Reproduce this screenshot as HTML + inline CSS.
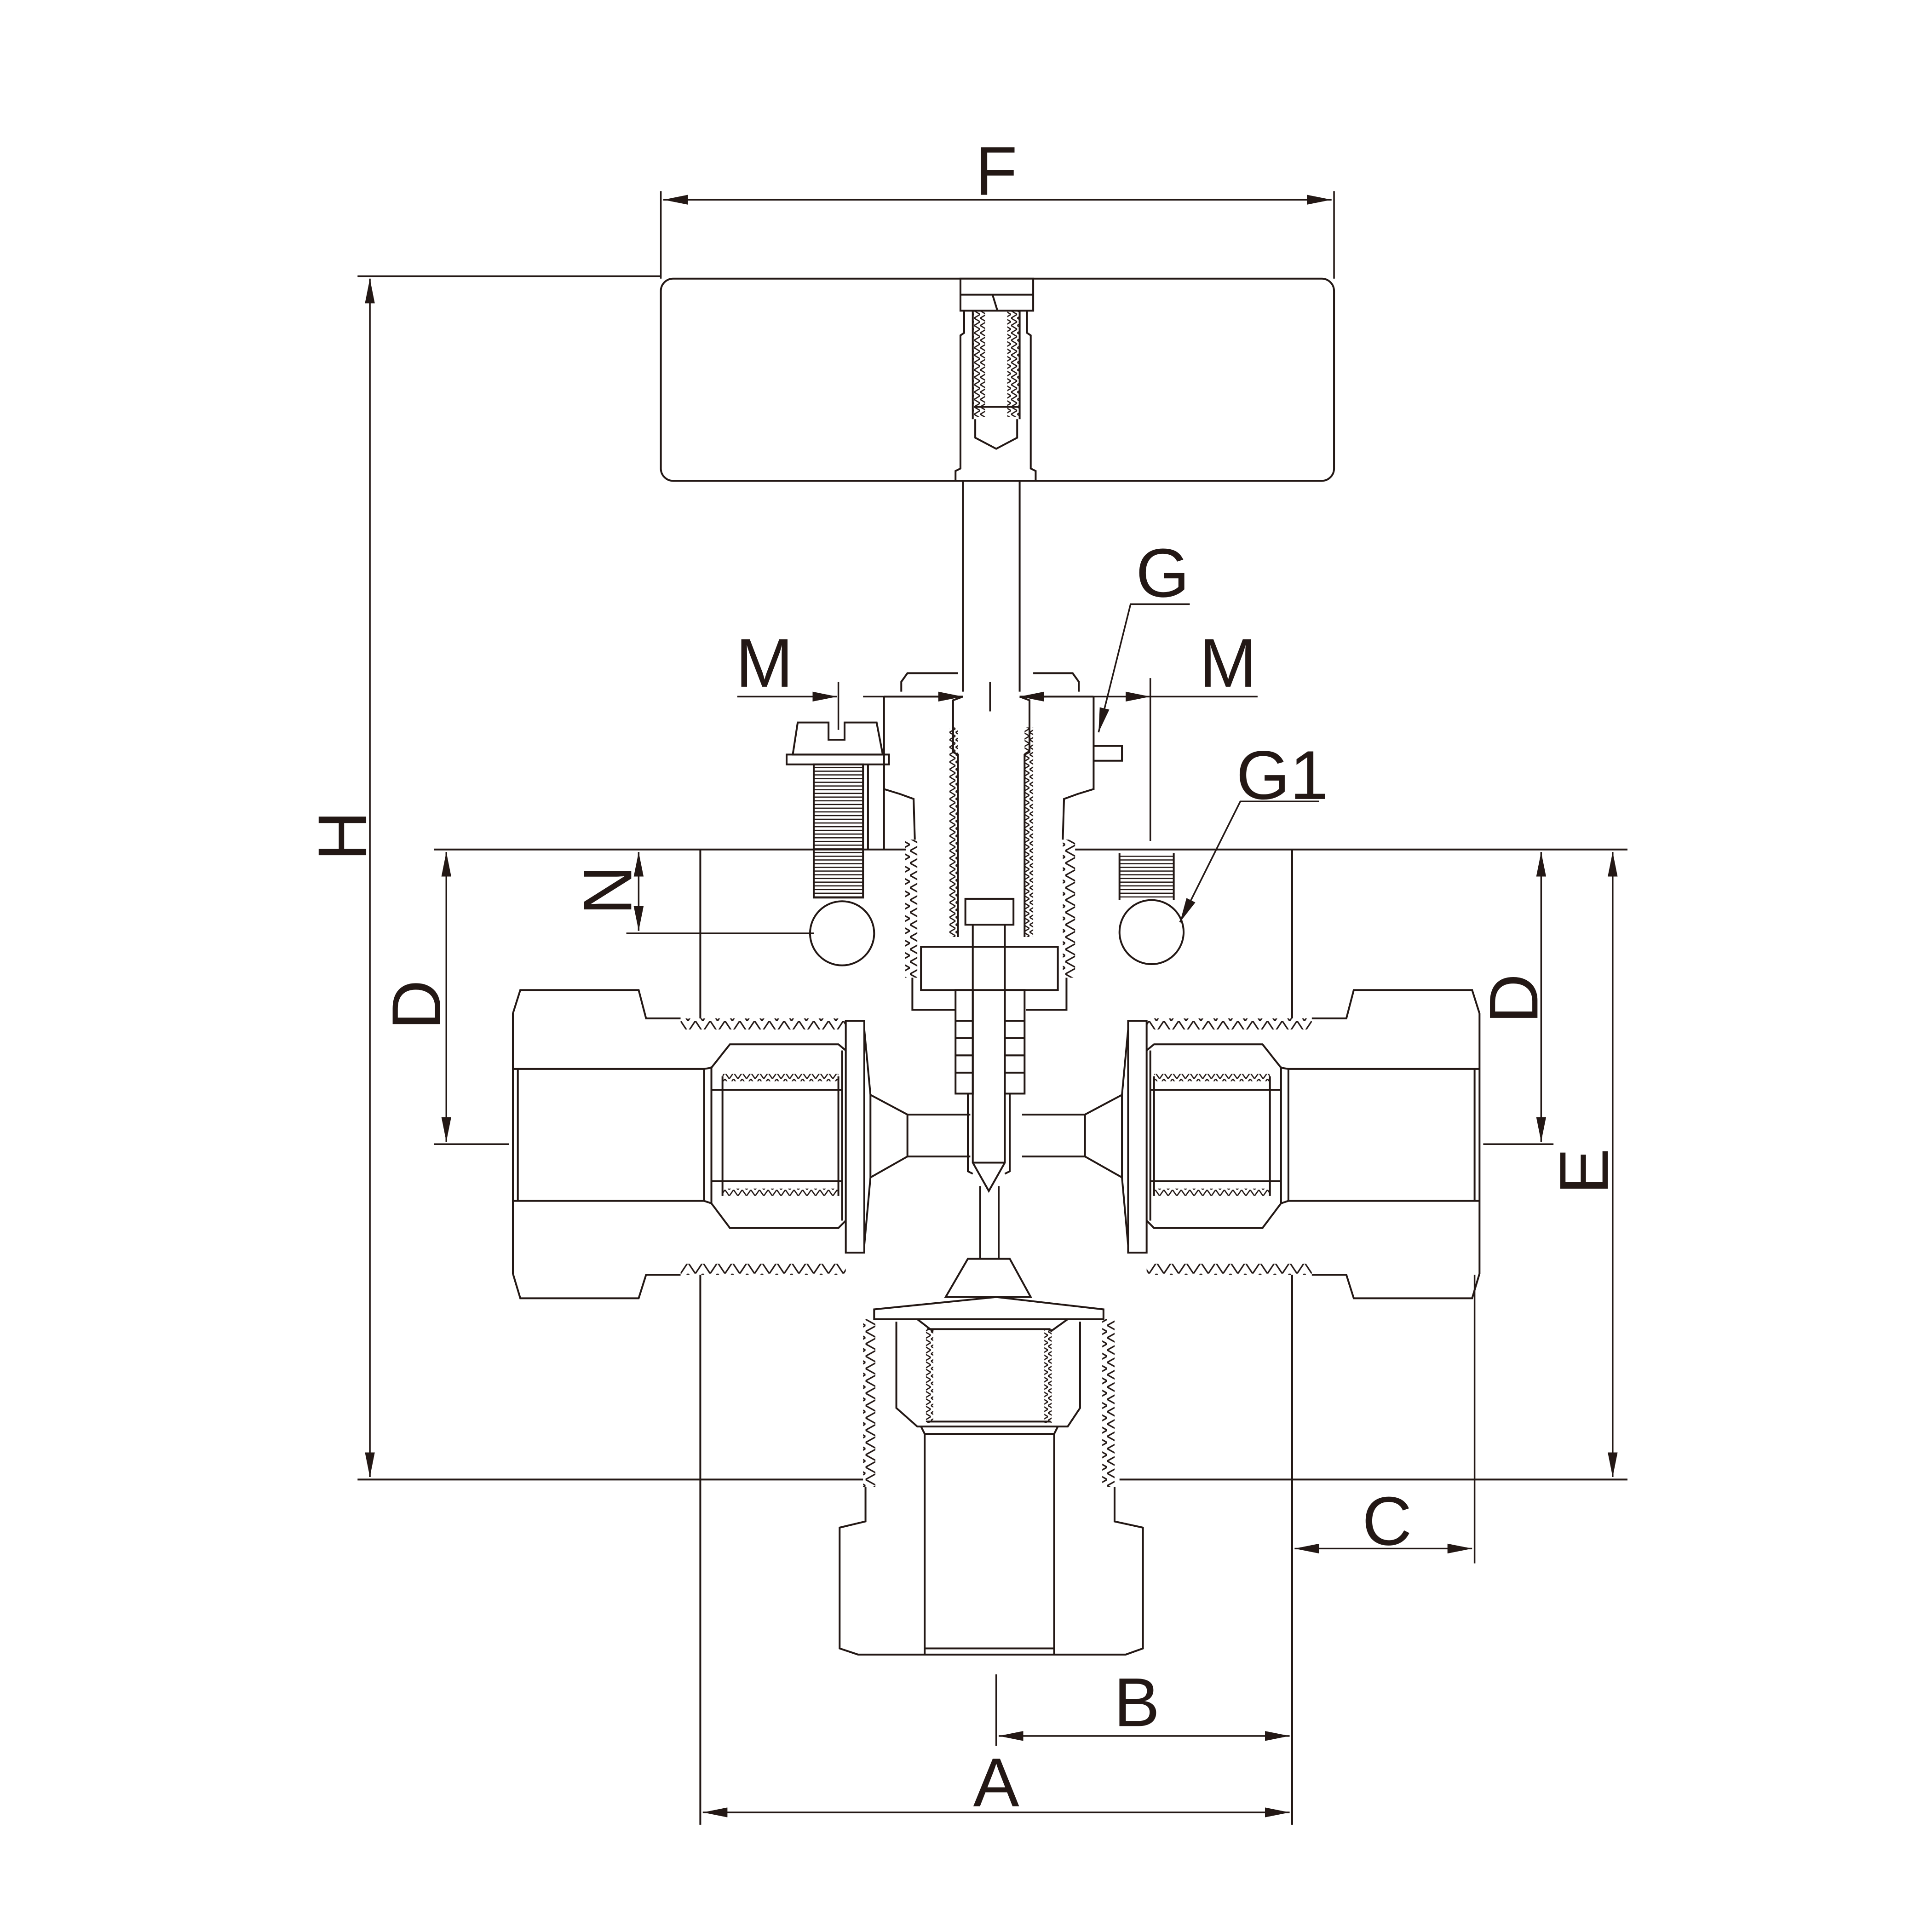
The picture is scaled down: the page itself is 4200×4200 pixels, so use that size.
<!DOCTYPE html>
<html><head><meta charset="utf-8"><style>
html,body{margin:0;padding:0;background:#fff}
svg{display:block}
text{font-family:"Liberation Sans",sans-serif;font-size:56px;fill:#231815}
</style></head><body>
<svg width="4200" height="4200" viewBox="0 0 1567 1567" xmlns="http://www.w3.org/2000/svg">
<defs>
<pattern id="zh" width="12" height="9" patternUnits="userSpaceOnUse"><polyline points="0,0 6,9 12,0" fill="none" stroke="#231815" stroke-width="1.2"/></pattern>
<pattern id="zv" width="9" height="10" patternUnits="userSpaceOnUse"><polyline points="0,0 9,5 0,10" fill="none" stroke="#231815" stroke-width="1.2"/></pattern>
<pattern id="zvs" width="5" height="6" patternUnits="userSpaceOnUse"><polyline points="0,0 5,3 0,6" fill="none" stroke="#231815" stroke-width="1"/></pattern>
<pattern id="zhs" width="7" height="5" patternUnits="userSpaceOnUse"><polyline points="0,0 3.5,5 7,0" fill="none" stroke="#231815" stroke-width="1"/></pattern>
<pattern id="hat" width="10" height="3" patternUnits="userSpaceOnUse"><line x1="0" y1="1.5" x2="10" y2="1.5" stroke="#231815" stroke-width="1"/></pattern>
<marker id="ar" viewBox="0 0 20 8" refX="20" refY="4" markerWidth="20" markerHeight="8" markerUnits="userSpaceOnUse" orient="auto-start-reverse"><path d="M0,0 L20,4 L0,8 Z" fill="#231815"/></marker>
<g id="side">
  <path d="M552,826 L524,826 L518,803 L422,803 L416,822 L416,1033 L422,1053 L518,1053 L524,1034 L552,1034" fill="none"/>
  <rect x="552" y="826" width="134" height="9" fill="url(#zh)" stroke="none"/>
  <rect x="552" y="1025" width="134" height="9" fill="url(#zh)" stroke="none" transform="translate(0,2059) scale(1,-1)"/>
  <line x1="416" y1="867" x2="571" y2="867"/><line x1="416" y1="974" x2="571" y2="974"/>
  <line x1="420" y1="867" x2="420" y2="974"/>
  <rect x="686" y="828" width="15" height="188" fill="#fff"/>
  <path d="M701,835 L706,888 L706,955 L701,1010"/>
  <path d="M571,867 L577,866 L592,847 L680,847 L686,852 M571,974 L577,976 L592,996 L680,996 L686,990" fill="none"/>
  <line x1="571" y1="867" x2="571" y2="974"/><line x1="577" y1="865" x2="577" y2="976"/>
  <line x1="586" y1="873" x2="586" y2="970"/><line x1="680" y1="873" x2="680" y2="970"/>
  <line x1="683" y1="852" x2="683" y2="990"/>
  <rect x="586" y="871" width="94" height="6" fill="url(#zhs)" stroke="none"/>
  <rect x="586" y="964" width="94" height="6" fill="url(#zhs)" stroke="none"/>
  <line x1="577" y1="884" x2="683" y2="884"/><line x1="577" y1="958" x2="683" y2="958"/>
  <path d="M706,888 L736,904 L736,938 L706,955" fill="none"/>
  <line x1="736" y1="904" x2="787" y2="904"/><line x1="736" y1="938" x2="787" y2="938"/>
</g>
</defs>
<g stroke="#231815" stroke-width="1.5" fill="none">
<rect x="536" y="226" width="546" height="164" rx="10"/>
<rect x="779" y="226" width="59" height="26" fill="#fff"/>
<line x1="779" y1="239" x2="838" y2="239"/><line x1="805" y1="239" x2="809" y2="252"/>
<rect x="789" y="252" width="10" height="86" fill="url(#zvs)" stroke="none"/>
<rect x="817" y="252" width="10" height="86" fill="url(#zvs)" stroke="none"/>
<line x1="789" y1="252" x2="789" y2="340"/><line x1="827" y1="252" x2="827" y2="340"/>
<line x1="790" y1="330" x2="826" y2="330"/>
<path d="M791,340 L791,355 L808,364 L825,355 L825,340"/>
<path d="M782,252 L782,270 L779,272 L779,380 L775,382 L775,390 M833,252 L833,270 L836,272 L836,380 L840,382 L840,390"/>
<line x1="781" y1="390" x2="781" y2="561"/><line x1="827" y1="390" x2="827" y2="561"/>
<path d="M731,561 L731,553 L736,546 L777,546 M838,546 L870,546 L875,553 L875,561"/>
<path d="M717,565 L717,640 L730,644 L741,648 L742,681 M887,565 L887,640 L874,644 L863,648 L862,681"/>
<line x1="717" y1="565" x2="781" y2="565"/><line x1="827" y1="565" x2="887" y2="565"/>
<rect x="734" y="681" width="10" height="112" fill="url(#zv)" stroke="none"/>
<rect x="862" y="681" width="10" height="112" fill="url(#zv)" stroke="none"/>
<rect x="770" y="590" width="7" height="170" fill="url(#zvs)" stroke="none"/>
<rect x="831" y="590" width="7" height="170" fill="url(#zvs)" stroke="none"/>
<path d="M781,565 L773,568 L773,610 L777,612 L777,760 M827,565 L835,568 L835,610 L831,612 L831,760"/>
<path d="M887,605 L910,605 L910,617 L887,617"/>
<rect x="783" y="729" width="39" height="21"/>
<path d="M789,750 L789,943 L802,966 L815,943 L815,750"/>
<line x1="789" y1="943" x2="815" y2="943"/>
<rect x="747" y="768" width="111" height="35"/>
<path d="M740,793 L740,819 L775,819 M865,793 L865,819 L832,819"/>
<rect x="775" y="803" width="14" height="84"/><rect x="815" y="803" width="16" height="84"/>
<line x1="775" y1="828" x2="789" y2="828"/><line x1="775" y1="842" x2="789" y2="842"/><line x1="775" y1="856" x2="789" y2="856"/><line x1="775" y1="870" x2="789" y2="870"/>
<line x1="815" y1="828" x2="831" y2="828"/><line x1="815" y1="842" x2="831" y2="842"/><line x1="815" y1="856" x2="831" y2="856"/><line x1="815" y1="870" x2="831" y2="870"/>
<path d="M785,887 L785,950 L789,952 M819,887 L819,950 L815,952"/>
<path d="M795,962 L795,1021 M810,962 L810,1021"/>
<line x1="352" y1="689" x2="735" y2="689"/><line x1="872" y1="689" x2="1320" y2="689"/>
<line x1="568" y1="689" x2="568" y2="826"/><line x1="1048" y1="689" x2="1048" y2="826"/>
<line x1="568" y1="1034" x2="568" y2="1480"/><line x1="1048" y1="1034" x2="1048" y2="1480"/>
<line x1="290" y1="1200" x2="700" y2="1200"/><line x1="908" y1="1200" x2="1320" y2="1200"/>
<use href="#side"/>
<use href="#side" transform="translate(1616,0) scale(-1,1)"/>
<path d="M785,1021 L819,1021 L836,1052 L767,1052 Z"/>
<path d="M709,1070 L709,1062 L808,1052 L895,1062 L895,1070 Z"/>
<rect x="700" y="1070" width="10" height="136" fill="url(#zv)" stroke="none"/>
<rect x="894" y="1070" width="10" height="136" fill="url(#zv)" stroke="none" transform="translate(1798,0) scale(-1,1)"/>
<path d="M727,1072 L727,1142 L744,1157 L866,1157 L876,1142 L876,1072"/>
<rect x="751" y="1078" width="6" height="76" fill="url(#zvs)" stroke="none"/>
<rect x="847" y="1078" width="6" height="76" fill="url(#zvs)" stroke="none"/>
<line x1="752" y1="1078" x2="852" y2="1078"/><line x1="752" y1="1153" x2="852" y2="1153"/>
<line x1="744" y1="1070" x2="757" y2="1080"/><line x1="866" y1="1070" x2="852" y2="1080"/>
<path d="M747,1157 L750,1163 L750,1342 M858,1157 L855,1163 L855,1342"/>
<line x1="750" y1="1163" x2="855" y2="1163"/>
<path d="M702,1206 L702,1234 L681,1239 L681,1337 L696,1342 L913,1342 L927,1337 L927,1239 L904,1234 L904,1206"/>
<line x1="750" y1="1337" x2="855" y2="1337"/>
<path d="M643,612 L647,586 L672,586 L672,600 L685,600 L685,586 L711,586 L716,612 Z"/>
<rect x="638" y="612" width="83" height="8"/>
<rect x="660" y="620" width="40" height="108" fill="url(#hat)"/>
<line x1="704" y1="620" x2="704" y2="689"/><line x1="717" y1="620" x2="717" y2="689"/>
<circle cx="683" cy="757" r="26"/>
<rect x="908" y="694" width="44" height="34" fill="url(#hat)" stroke="none"/>
<line x1="908" y1="692" x2="908" y2="730"/><line x1="952" y1="692" x2="952" y2="730"/>
<circle cx="934" cy="756" r="26"/>
<g stroke-width="1.3">
<line x1="536" y1="155" x2="536" y2="226"/><line x1="1082" y1="155" x2="1082" y2="226"/>
<line x1="538" y1="162" x2="1080" y2="162" marker-start="url(#ar)" marker-end="url(#ar)"/>
<line x1="290" y1="224" x2="536" y2="224"/>
<line x1="300" y1="226" x2="300" y2="1198" marker-start="url(#ar)" marker-end="url(#ar)"/>
<line x1="362" y1="691" x2="362" y2="926" marker-start="url(#ar)" marker-end="url(#ar)"/>
<line x1="352" y1="928" x2="413" y2="928"/>
<line x1="1250" y1="691" x2="1250" y2="926" marker-start="url(#ar)" marker-end="url(#ar)"/>
<line x1="1203" y1="928" x2="1260" y2="928"/>
<line x1="1308" y1="691" x2="1308" y2="1198" marker-start="url(#ar)" marker-end="url(#ar)"/>
<line x1="1196" y1="1034" x2="1196" y2="1268"/>
<line x1="1050" y1="1256" x2="1194" y2="1256" marker-start="url(#ar)" marker-end="url(#ar)"/>
<line x1="808" y1="1358" x2="808" y2="1416"/>
<line x1="810" y1="1408" x2="1046" y2="1408" marker-start="url(#ar)" marker-end="url(#ar)"/>
<line x1="570" y1="1470" x2="1046" y2="1470" marker-start="url(#ar)" marker-end="url(#ar)"/>
<line x1="518" y1="691" x2="518" y2="755" marker-start="url(#ar)" marker-end="url(#ar)"/>
<line x1="508" y1="757" x2="660" y2="757"/>
<line x1="598" y1="565" x2="679" y2="565" marker-end="url(#ar)"/>
<line x1="680" y1="553" x2="680" y2="592"/>
<line x1="700" y1="565" x2="781" y2="565"/>
<line x1="760" y1="565" x2="781" y2="565" marker-end="url(#ar)"/>
<line x1="849" y1="565" x2="827" y2="565" marker-end="url(#ar)"/>
<line x1="803" y1="553" x2="803" y2="577"/>
<line x1="887" y1="565" x2="933" y2="565" marker-end="url(#ar)"/>
<line x1="933" y1="565" x2="1020" y2="565"/>
<line x1="933" y1="550" x2="933" y2="682"/>
<polyline points="965,490 917,490 891,594" marker-end="url(#ar)"/>
<polyline points="1070,650 1006,650 957,748" marker-end="url(#ar)"/>
</g>
</g>
<g>
<text x="808" y="158" text-anchor="middle">F</text>
<text x="943" y="484" text-anchor="middle">G</text>
<text x="620" y="557" text-anchor="middle">M</text>
<text x="996" y="557" text-anchor="middle">M</text>
<text x="1040" y="648" text-anchor="middle">G1</text>
<text x="808" y="1465" text-anchor="middle">A</text>
<text x="922" y="1400" text-anchor="middle">B</text>
<text x="1125" y="1253" text-anchor="middle">C</text>
<text transform="translate(297,678) rotate(-90)" text-anchor="middle">H</text>
<text transform="translate(357,815) rotate(-90)" text-anchor="middle">D</text>
<text transform="translate(1247,810) rotate(-90)" text-anchor="middle">D</text>
<text transform="translate(1304,950) rotate(-90)" text-anchor="middle">E</text>
<text transform="translate(512,722) rotate(-90)" text-anchor="middle">N</text>
</g>
</svg>
</body></html>
